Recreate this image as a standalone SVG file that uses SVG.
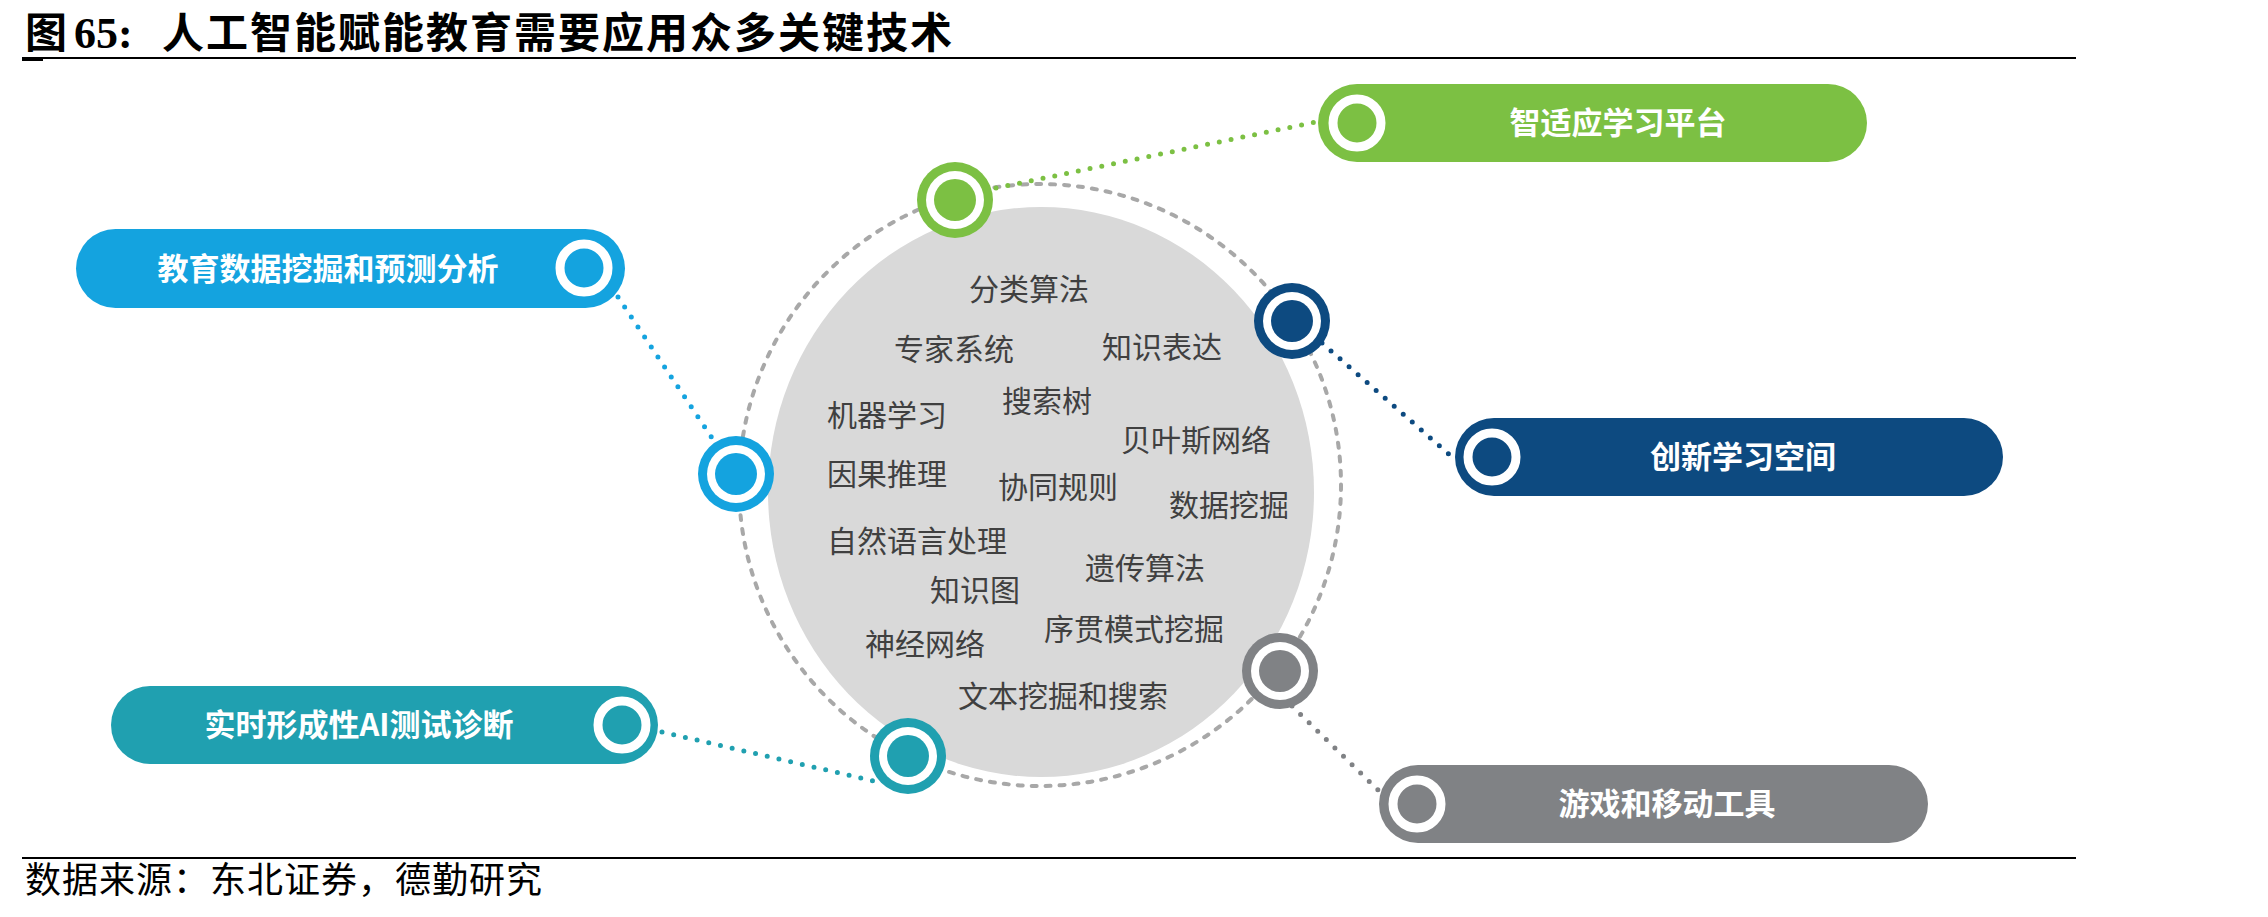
<svg xmlns="http://www.w3.org/2000/svg" width="2268" height="917" viewBox="0 0 2268 917">
<style>
.title{font-family:"Noto Sans CJK SC","Noto Sans CJK JP",sans-serif;font-weight:bold;font-size:42px;fill:#000}
.num{font-family:"Liberation Serif",serif;font-weight:bold;font-size:44px;fill:#000}
.src{font-family:"Noto Sans CJK SC",sans-serif;font-size:36px;letter-spacing:1px;fill:#000}
.pt{font-family:"Noto Sans CJK SC",sans-serif;font-weight:bold;font-size:31px;fill:#fff;text-anchor:middle}
.kt{font-family:"Noto Sans CJK SC",sans-serif;font-size:30px;fill:#404040}
.dot{fill:none;stroke-width:5;stroke-linecap:round;stroke-dasharray:0 12}
.ring{fill:none;stroke:#fff;stroke-width:9}
</style>
<rect width="2268" height="917" fill="#fff"/>
<g id="title">
<text class="title" x="25" y="48">图</text>
<text class="num" x="74" y="48">65:</text>
<text class="title" x="162" y="48" letter-spacing="2">人工智能赋能教育需要应用众多关键技术</text>
<rect x="22" y="57" width="2054" height="2" fill="#000"/>
<rect x="22" y="57" width="21" height="4" fill="#000"/>
</g>
<g id="hub">
<circle cx="1040" cy="485" r="301" fill="none" stroke="#a8a8a8" stroke-width="4" stroke-dasharray="5 9" stroke-linecap="round"/>
<ellipse cx="1041" cy="492" rx="273" ry="285" fill="#d9d9d9"/>
<text class="kt" x="969" y="300">分类算法</text>
<text class="kt" x="894" y="360">专家系统</text>
<text class="kt" x="1102" y="358">知识表达</text>
<text class="kt" x="827" y="426">机器学习</text>
<text class="kt" x="1002" y="412">搜索树</text>
<text class="kt" x="1121" y="451">贝叶斯网络</text>
<text class="kt" x="827" y="485">因果推理</text>
<text class="kt" x="998" y="498">协同规则</text>
<text class="kt" x="1169" y="516">数据挖掘</text>
<text class="kt" x="827" y="552">自然语言处理</text>
<text class="kt" x="1085" y="579">遗传算法</text>
<text class="kt" x="930" y="601">知识图</text>
<text class="kt" x="865" y="655">神经网络</text>
<text class="kt" x="1044" y="640">序贯模式挖掘</text>
<text class="kt" x="958" y="707">文本挖掘和搜索</text>
</g>
<g id="connectors">
<line class="dot" x1="996" y1="188" x2="1316" y2="122" stroke="#7cc043"/>
<line class="dot" x1="1322" y1="343" x2="1451" y2="456" stroke="#0d4a80"/>
<line class="dot" x1="618" y1="297" x2="712" y2="438" stroke="#14a3df"/>
<line class="dot" x1="662" y1="732" x2="874" y2="781" stroke="#20a0b0"/>
<line class="dot" x1="1292" y1="706" x2="1380" y2="792" stroke="#808285"/>
</g>
<g id="marker-green">
<circle cx="955" cy="200" r="38" fill="#7cc043"/>
<circle cx="955" cy="200" r="29" fill="#fff"/>
<circle cx="955" cy="200" r="21" fill="#7cc043"/>
</g>
<g id="marker-darkblue">
<circle cx="1292" cy="321" r="38" fill="#0d4a80"/>
<circle cx="1292" cy="321" r="29" fill="#fff"/>
<circle cx="1292" cy="321" r="21" fill="#0d4a80"/>
</g>
<g id="marker-lightblue">
<circle cx="736" cy="474" r="38" fill="#14a3df"/>
<circle cx="736" cy="474" r="29" fill="#fff"/>
<circle cx="736" cy="474" r="21" fill="#14a3df"/>
</g>
<g id="marker-gray">
<circle cx="1280" cy="671" r="38" fill="#808285"/>
<circle cx="1280" cy="671" r="29" fill="#fff"/>
<circle cx="1280" cy="671" r="21" fill="#808285"/>
</g>
<g id="marker-teal">
<circle cx="908" cy="756" r="38" fill="#20a0b0"/>
<circle cx="908" cy="756" r="29" fill="#fff"/>
<circle cx="908" cy="756" r="21" fill="#20a0b0"/>
</g>
<g id="node-edu-data">
<rect x="76" y="229" width="549" height="79" rx="39.5" fill="#14a3df"/>
<circle class="ring" cx="584" cy="268" r="24"/>
<text class="pt" x="328" y="280">教育数据挖掘和预测分析</text>
</g>
<g id="node-adaptive">
<rect x="1318" y="84" width="549" height="78" rx="39" fill="#7cc043"/>
<circle class="ring" cx="1357" cy="123" r="24"/>
<text class="pt" x="1618" y="134">智适应学习平台</text>
</g>
<g id="node-innovative">
<rect x="1455" y="418" width="548" height="78" rx="39" fill="#0d4a80"/>
<circle class="ring" cx="1492" cy="457" r="24"/>
<text class="pt" x="1743" y="468">创新学习空间</text>
</g>
<g id="node-ai-test">
<rect x="111" y="686" width="547" height="78" rx="39" fill="#20a0b0"/>
<circle class="ring" cx="622" cy="725" r="24"/>
<text class="pt" x="359" y="736">实时形成性AI测试诊断</text>
</g>
<g id="node-games">
<rect x="1379" y="765" width="549" height="78" rx="39" fill="#808285"/>
<circle class="ring" cx="1417" cy="804" r="24"/>
<text class="pt" x="1667" y="815">游戏和移动工具</text>
</g>
<g id="source">
<rect x="22" y="857" width="2054" height="2" fill="#000"/>
<text class="src" x="25" y="893">数据来源：东北证券，德勤研究</text>
</g>
</svg>
